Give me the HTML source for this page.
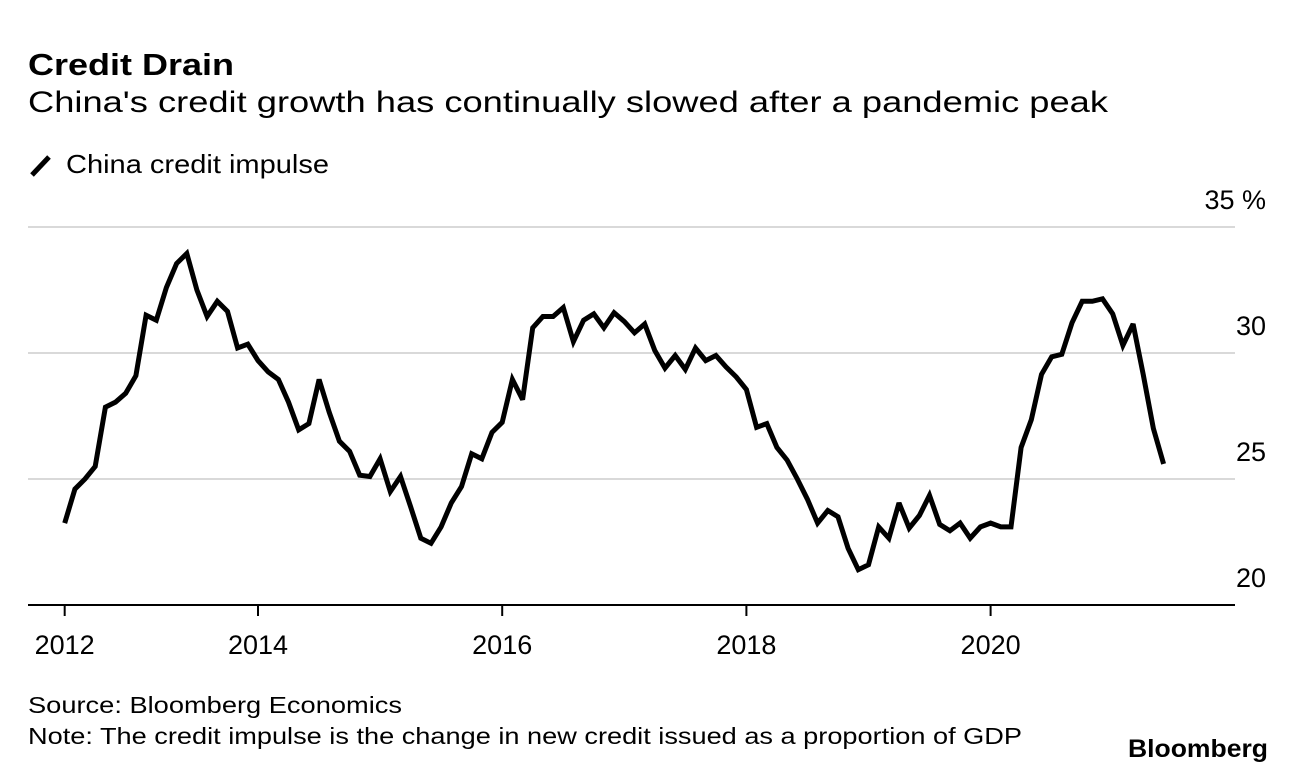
<!DOCTYPE html>
<html><head><meta charset="utf-8"><style>
html,body{margin:0;padding:0;background:#fff;}
svg{display:block;font-family:"Liberation Sans",Arial,sans-serif;}
</style></head><body>
<svg id="chart" width="1296" height="774" viewBox="0 0 1296 774">
<text x="28" y="75" font-size="31" font-weight="bold" textLength="206" lengthAdjust="spacingAndGlyphs">Credit Drain</text>
<text x="28" y="112" font-size="30" textLength="1080" lengthAdjust="spacingAndGlyphs">China's credit growth has continually slowed after a pandemic peak</text>
<g>
<line x1="32" y1="175" x2="49" y2="157" stroke="#000" stroke-width="5" stroke-linecap="butt"/>
<text x="66" y="173" font-size="26" textLength="263" lengthAdjust="spacingAndGlyphs">China credit impulse</text>
</g>
<g id="grid"></g>
<g id="xaxis"></g>
<g id="yaxis"></g>
<g id="series"></g>
<text x="28" y="713" font-size="23" textLength="374" lengthAdjust="spacingAndGlyphs">Source: Bloomberg Economics</text>
<text x="28" y="744" font-size="23" textLength="994" lengthAdjust="spacingAndGlyphs">Note: The credit impulse is the change in new credit issued as a proportion of GDP</text>
<text x="1268" y="757" font-size="25" font-weight="bold" text-anchor="end" textLength="140" lengthAdjust="spacingAndGlyphs">Bloomberg</text>
</svg>
<script>
const startYear = 2012;
const startMonth = 6;
const values = [23.25,24.6,25.0,25.5,27.85,28.05,28.4,29.1,31.5,31.3,32.6,33.55,33.95,32.5,31.45,32.05,31.65,30.2,30.35,29.7,29.25,28.95,28.05,26.95,27.2,28.95,27.65,26.5,26.1,25.15,25.1,25.8,24.5,25.1,23.9,22.65,22.45,23.1,24.05,24.7,26.0,25.8,26.85,27.25,28.95,
28.15,31.0,31.45,31.45,31.8,30.45,31.3,31.55,31.0,31.6,31.25,30.8,31.15,30.1,29.4,29.9,29.35,30.2,29.7,29.9,29.45,29.05,28.55,27.05,27.2,26.25,25.75,25.0,24.2,23.25,23.75,23.5,22.25,21.4,21.6,
23.1,22.65,24.05,23.05,23.55,24.35,23.2,22.95,23.25,22.65,23.1,23.25,23.1,23.1,26.25,27.35,29.15,29.85,29.95,31.2,32.05,32.05,32.15,31.55,30.3,31.15,29.15,27.0,25.6];
const yTicks = [20,25,30,35];
const yTickLabels = ["20","25","30","35 %"];
const xTicks = [2012.4167,2014,2016,2018,2020];
const xTickLabels = ["2012","2014","2016","2018","2020"];

const NS = "http://www.w3.org/2000/svg";
function xs(t){ return 258 + (t - 2014) * 122.1; }
function ys(v){ return 605 - (v - 20) * 25.2; }
function mk(tag, attrs, parent){
  const e = document.createElementNS(NS, tag);
  for (const k in attrs) e.setAttribute(k, attrs[k]);
  parent.appendChild(e); return e;
}
const grid = document.getElementById('grid');
const yaxis = document.getElementById('yaxis');
const xaxis = document.getElementById('xaxis');
const series = document.getElementById('series');

yTicks.forEach((v, i) => {
  if (v > 20) {
    const l = mk('line', {x1:28, x2:1235, y1:ys(v), y2:ys(v), stroke:'#d9d9d9', 'stroke-width':2}, grid);
    
    
  }
  const t = mk('text', {x:1266, y:ys(v) - 18, 'font-size':27, 'text-anchor':'end'}, yaxis);
  t.textContent = yTickLabels[i];
  
  
});
const base = mk('line', {x1:28, x2:1235, y1:ys(20), y2:ys(20), stroke:'#000', 'stroke-width':2}, xaxis);


xTicks.forEach((t, i) => {
  const x = xs(t);
  const tk = mk('line', {x1:x, x2:x, y1:ys(20), y2:ys(20) + 11, stroke:'#000', 'stroke-width':2}, xaxis);
  
  
  const lb = mk('text', {x:x, y:654, 'font-size':27, 'text-anchor':'middle'}, xaxis);
  lb.textContent = xTickLabels[i];
  
  
});
const pts = values.map((v, i) => {
  const t = startYear + (startMonth - 1 + i) / 12;
  return xs(t).toFixed(1) + ',' + ys(v).toFixed(1);
});
const line = mk('polyline', {points: pts.join(' '), fill:'none', stroke:'#000', 'stroke-width':5, 'stroke-linejoin':'miter', 'stroke-miterlimit':3}, series);


</script>
</body></html>
